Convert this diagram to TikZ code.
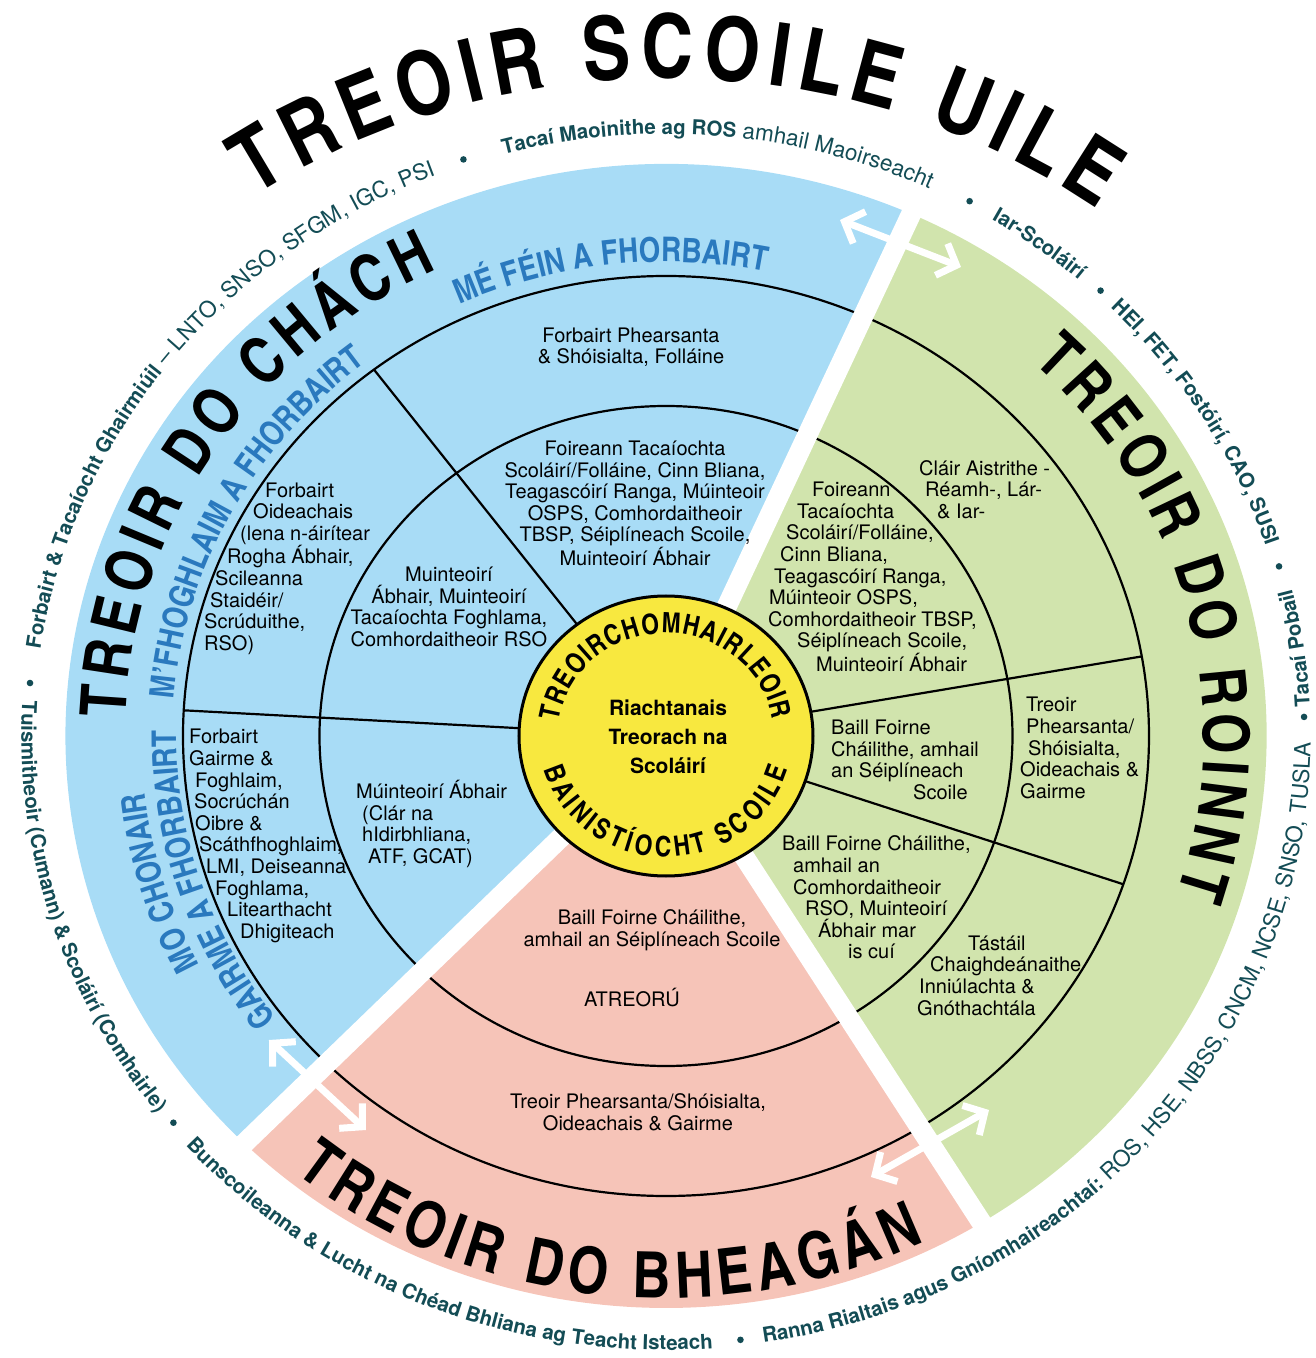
\documentclass[tikz,border=0pt]{standalone}
\usepackage{fontspec}
\setmainfont{TeX Gyre Heros}
\newfontfamily\cnfont{texgyreheroscn}[Extension=.otf,UprightFont=*-regular,BoldFont=*-bold]
\usetikzlibrary{decorations.text,arrows.meta}
\definecolor{secblue}{HTML}{A8DCF6}
\definecolor{secgreen}{HTML}{D1E4AD}
\definecolor{secpink}{HTML}{F6C4B8}
\definecolor{hubyellow}{HTML}{F8E83F}
\definecolor{labelblue}{HTML}{2A79BE}
\definecolor{ringteal}{HTML}{134C55}
\newcommand\bodytext{\fontsize{20}{21.6}\selectfont}
\newcommand\hubcentre{\bfseries\fontsize{21}{29}\selectfont}
\newcommand\ringbf{\fontsize{20.5}{24}\selectfont\bfseries\color{ringteal}}
\newcommand\ringmd{\fontsize{22.5}{24}\selectfont\mdseries\color{ringteal}}
\newcommand\maintitle{\cnfont\bfseries\fontsize{88}{92}\selectfont}
\newcommand\bigtitle{\cnfont\bfseries\fontsize{64}{68}\selectfont}
\newcommand\bandlabel{\cnfont\bfseries\fontsize{34}{38}\selectfont\color{labelblue}}
\newcommand\hubtitle{\cnfont\bfseries\fontsize{28}{30}\selectfont}
\tikzset{
  ringline/.style={draw=black,line width=2.2pt},
  gapband/.style={draw=white,line width=20pt},
  gaparrow/.style={draw=white,line width=7pt,{Straight Barb[length=16pt,width=34pt]}-{Straight Barb[length=16pt,width=34pt]}},
  celltext/.style={font=\bodytext,align=center,inner sep=0pt},
  cellleft/.style={font=\bodytext,align=left,inner sep=0pt,anchor=west},
  curvetext/.style={decorate,decoration={text along path,text align=center,text={#1}}},
  fittext/.style={decorate,decoration={text along path,text align={fit to path},text={#1}}}
}
\begin{document}
\begin{tikzpicture}[x=1pt,y=1pt]
\useasboundingbox (-666,-622) rectangle (650,736);
% sectors
\fill[secblue] (0,0) -- (65.9:600.6 and 572) arc[start angle=65.9,end angle=225.4,x radius=600.6,y radius=572] -- cycle;
\fill[secpink] (0,0) -- (225.4:600.6 and 572) arc[start angle=225.4,end angle=301.7,x radius=600.6,y radius=572] -- cycle;
\fill[secgreen] (0,0) -- (-58.3:600.6 and 572) arc[start angle=-58.3,end angle=65.9,x radius=600.6,y radius=572] -- cycle;
\draw[ringline] (0,0) ellipse[x radius=346.5,y radius=330];
\draw[ringline] (0,0) ellipse[x radius=483,y radius=460];
\draw[ringline] (127.2:147 and 140) -- (127.2:483 and 460);
\draw[ringline] (176.8:147 and 140) -- (176.8:483 and 460);
\draw[ringline] (9.96:147 and 140) -- (9.96:483 and 460);
\draw[ringline] (-18.8:147 and 140) -- (-18.8:483 and 460);
\draw[gapband] (0,0) -- (65.9:611 and 582);
\draw[gapband] (0,0) -- (225.4:611 and 582);
\draw[gapband] (0,0) -- (-58.3:611 and 582);
\draw[line width=3pt,fill=hubyellow] (0,0) ellipse[x radius=147,y radius=140];
% curved titles
\path[fittext={|\maintitle|TREOIR SCOILE UILE}] (124.9:720 and 658) arc[start angle=124.9,end angle=53.2,x radius=720,y radius=658];
\path[fittext={|\bigtitle|TREOIR DO CHÁCH}] (178:540.8 and 515) arc[start angle=178,end angle=115,x radius=540.8,y radius=515];
\path[fittext={|\bigtitle|TREOIR DO ROINNT}] (47:537.6 and 512) arc[start angle=47,end angle=-18,x radius=537.6,y radius=512];
\path[fittext={|\bigtitle|TREOIR DO BHEAGÁN}] (231:590.1 and 562) arc[start angle=231,end angle=296,x radius=590.1,y radius=562];
\path[curvetext={|\bandlabel|MÉ FÉIN A FHORBAIRT}] (120:497.7 and 474) arc[start angle=120,end angle=73,x radius=497.7,y radius=474];
\path[curvetext={|\bandlabel|M’FHOGHLAIM A FHORBAIRT}] (178:493.5 and 470) arc[start angle=178,end angle=125,x radius=493.5,y radius=470];
\path[curvetext={|\bandlabel|MO CHONAIR}] (212:525 and 500) arc[start angle=212,end angle=181.7,x radius=525,y radius=500];
\path[curvetext={|\bandlabel|GAIRME A FHORBAIRT}] (221:489.3 and 466) arc[start angle=221,end angle=175.5,x radius=489.3,y radius=466];
\path[fittext={|\hubtitle|TREOIRCHOMHAIRLEOIR}] (172:108 and 103) arc[start angle=172,end angle=9,x radius=108,y radius=103];
\path[fittext={|\hubtitle|BAINISTÍOCHT SCOILE}] (196:127 and 121) arc[start angle=196,end angle=344,x radius=127,y radius=121];
% outer ring
\path[curvetext={|\ringbf|Forbairt {\&} Tacaíocht Ghairmiúil|\ringmd| – LNTO, SNSO, SFGM, IGC, PSI}] (180.9:632.1 and 602) arc[start angle=180.9,end angle=102.6,x radius=632.1,y radius=602];
\path[curvetext={|\ringbf|Tacaí Maoinithe ag ROS|\ringmd| amhail Maoirseacht}] (114.6:632.1 and 602) arc[start angle=114.6,end angle=55.6,x radius=632.1,y radius=602];
\path[curvetext={|\ringbf|Iar-Scoláirí}] (68:632.1 and 602) arc[start angle=68,end angle=40.1,x radius=632.1,y radius=602];
\path[curvetext={|\ringbf|HEI, FET, Fostóirí, CAO, SUSI}] (53.7:632.1 and 602) arc[start angle=53.7,end angle=9.8,x radius=632.1,y radius=602];
\path[curvetext={|\ringbf|Tacaí Pobail}] (-5.1:644.7 and 614) arc[start angle=-5.1,end angle=21.7,x radius=644.7,y radius=614];
\path[curvetext={|\ringbf|Ranna Rialtais agus Gníomhaireachtaí:|\ringmd| ROS, HSE, NBSS, CNCM, NCSE, SNSO, TUSLA}] (270.5:644.7 and 614) arc[start angle=270.5,end angle=368,x radius=644.7,y radius=614];
\path[curvetext={|\ringbf|Bunscoileanna {\&} Lucht na Chéad Bhliana ag Teacht Isteach}] (213.1:644.7 and 614) arc[start angle=213.1,end angle=282.6,x radius=644.7,y radius=614];
\path[curvetext={|\ringbf|Tuismitheoir (Cumann) {\&} Scoláirí (Comhairle)}] (168.6:644.7 and 614) arc[start angle=168.6,end angle=225.8,x radius=644.7,y radius=614];
\foreach \a in {108.5,61.6,47.1,16.2,1.8,276.7,219.5,175}
  \fill[ringteal] (\a:638.4 and 608) circle[radius=3.3];
% cell texts, image coordinates
\begin{scope}[shift={(-666,736)},y=-1pt]
\node[celltext] (personal) at (631,347) {Forbairt Phearsanta\\\& Shóisialta, Folláine};
\node[celltext] (supportteam) at (635,503.5) {Foireann Tacaíochta\\Scoláirí/Folláine, Cinn Bliana,\\Teagascóirí Ranga, Múinteoir\\OSPS, Comhordaitheoir\\TBSP, Séiplíneach Scoile,\\Muinteoirí Ábhair};
\node[celltext] (learnstaff) at (449,607) {Muinteoirí\\Ábhair, Muinteoirí\\Tacaíochta Foghlama,\\Comhordaitheoir RSO};
\node[cellleft] (tystaff) at (356,824) {Múinteoirí Ábhair\\\hspace*{6pt}(Clár na\\\hspace*{6pt}hIdirbhliana,\\\hspace*{12pt}ATF, GCAT)};
\node[cellleft] (educdev) at (204,568.5) {\hspace*{61pt}Forbairt\\\hspace*{49pt}Oideachais\\\hspace*{36pt}(lena n-áirítear\\\hspace*{23pt}Rogha Ábhair,\\\hspace*{11pt}Scileanna\\\hspace*{6pt}Staidéir/\\Scrúduithe,\\RSO)};
\node[cellleft] (careerdev) at (189,836) {Forbairt\\Gairme \&\\\hspace*{6pt}Foghlaim,\\\hspace*{5pt}Socrúchán\\\hspace*{6pt}Oibre \&\\\hspace*{10pt}Scáthfhoghlaim,\\\hspace*{17pt}LMI, Deiseanna\\\hspace*{26pt}Foghlama,\\\hspace*{38pt}Litearthacht\\\hspace*{51pt}Dhigiteach};
\node[cellleft] (greenteam) at (768,577) {\hspace*{44pt}Foireann\\\hspace*{29pt}Tacaíochta\\\hspace*{18pt}Scoláirí/Folláine,\\\hspace*{12pt}Cinn Bliana,\\\hspace*{6pt}Teagascóirí Ranga,\\\hspace*{1pt}Múinteoir OSPS,\\Comhordaitheoir TBSP,\\\hspace*{29pt}Séiplíneach Scoile,\\\hspace*{48pt}Muinteoirí Ábhair};
\node[cellleft] (transition) at (919,489.5) {Cláir Aistrithe -\\\hspace*{6pt}Réamh-, Lár-\\\hspace*{18pt}\& Iar-};
\node[cellleft] (chaplainstaff) at (831,760) {Baill Foirne\\Cháilithe, amhail\\an Séiplíneach\\\hspace*{82pt}Scoile};
\node[cellleft] (guidance) at (1020,748) {\hspace*{6pt}Treoir\\\hspace*{6pt}Phearsanta/\\\hspace*{8pt}Shóisialta,\\Oideachais \&\\Gairme};
\node[cellleft] (rsostaff) at (782,897.5) {Baill Foirne Cháilithe,\\\hspace*{11pt}amhail an\\\hspace*{11pt}Comhordaitheoir\\\hspace*{23pt}RSO, Muinteoirí\\\hspace*{36pt}Ábhair mar\\\hspace*{66pt}is cuí};
\node[cellleft] (testing) at (917,975.5) {\hspace*{51pt}Tástáil\\\hspace*{13pt}Chaighdeánaithe\\\hspace*{2pt}Inniúlachta \&\\Gnóthachtála};
\node[celltext] (pinkstaff) at (652,930.5) {Baill Foirne Cháilithe,\\amhail an Séiplíneach Scoile};
\node[celltext] (referral) at (632,998) {ATREORÚ};
\node[celltext] (pinkguide) at (638,1112) {Treoir Phearsanta/Shóisialta,\\Oideachais \& Gairme};
\node[font=\hubcentre,align=center,inner sep=0pt] (hubneeds) at (668,737) {Riachtanais\\Treorach na\\Scoláirí};
\coordinate (arrTopL) at (840,220);
\coordinate (arrTopR) at (961,267);
\coordinate (arrLeftU) at (269,1040);
\coordinate (arrLeftD) at (366,1130);
\coordinate (arrRightD) at (871,1177);
\coordinate (arrRightU) at (989,1110);
\draw[gaparrow] (arrTopL) -- (arrTopR);
\draw[gaparrow] (arrLeftU) -- (arrLeftD);
\draw[gaparrow] (arrRightD) -- (arrRightU);
\end{scope}
\end{tikzpicture}
\end{document}
